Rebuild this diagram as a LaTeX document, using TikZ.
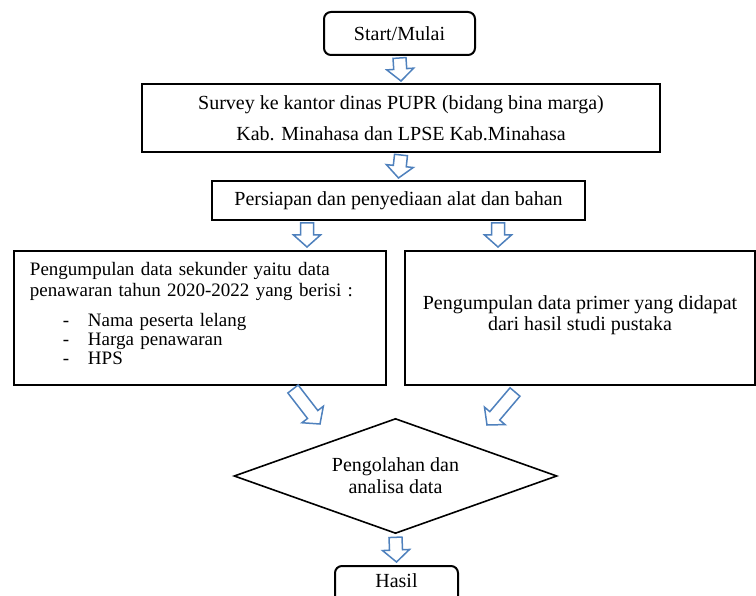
\documentclass[tikz,border=0pt]{standalone}
\usepackage{fontspec}
\setmainfont{Liberation Serif}
\usetikzlibrary{shapes.geometric,calc}
\definecolor{arrblue}{HTML}{4F81BD}
\tikzset{
 box/.style={draw, line width=2pt, inner sep=0pt, font=\fontsize{20}{21}\selectfont},
 rbox/.style={box, rounded corners=7pt},
 barr/.style={draw=arrblue, line width=1.5pt, fill=white, line join=miter},
}
\newcommand\blockarr[2]{%
 \coordinate (ba-h) at ($(#2)!12pt!(#1)$);
 \draw[barr] ($(#1)!6.5pt!90:(#2)$) -- ($(ba-h)!6.5pt!90:(#2)$) -- ($(ba-h)!13.5pt!90:(#2)$) -- (#2) -- ($(ba-h)!13.5pt!-90:(#2)$) -- ($(ba-h)!6.5pt!-90:(#2)$) -- ($(#1)!6.5pt!-90:(#2)$) -- cycle;}
\begin{document}
\begin{tikzpicture}[x=1pt,y=-1pt]
\useasboundingbox (0,0) rectangle (756,596);
\clip (0,0) rectangle (756,596);
\node[rbox, minimum width=151pt, minimum height=43pt] (start) at (399.5,33.5) {Start/Mulai};
\node[box, minimum width=518pt, minimum height=68pt, align=center, font=\fontsize{20}{31}\selectfont] (survey) at (401,118) {Survey ke kantor dinas PUPR (bidang bina marga)\\Kab. Minahasa dan LPSE Kab.Minahasa};
\node[box, minimum width=373pt, minimum height=39pt] (prep) at (398.5,200.5) {Persiapan dan penyediaan alat dan bahan};
\node[box, minimum width=372pt, minimum height=134pt, text width=340pt, align=left, font=\fontsize{19}{21}\selectfont] (left) at (200,318) {Pengumpulan data sekunder yaitu data\\
penawaran tahun 2020-2022 yang berisi :\\[9pt]
\hspace*{33pt}\makebox[25pt][l]{-}Nama peserta lelang\\[-2pt]
\hspace*{33pt}\makebox[25pt][l]{-}Harga penawaran\\[-2pt]
\hspace*{33pt}\makebox[25pt][l]{-}HPS\rule[-10pt]{0pt}{0pt}};
\node[box, minimum width=350pt, minimum height=134pt, align=center] (right) at (580,318) {Pengumpulan data primer yang didapat\\dari hasil studi pustaka\rule[-9pt]{0pt}{0pt}};
\node[draw, diamond, aspect=2.8, line width=1.6pt, minimum width=323pt, minimum height=115pt, inner sep=0pt, align=center, font=\fontsize{20}{22}\selectfont] (proc) at (395.5,476) {Pengolahan dan\\analisa data};
\node[rbox, anchor=north, minimum width=123pt, text height=17pt, text depth=24pt, inner sep=4pt] (hasil) at (396.5,565) {Hasil};
\coordinate (a1s) at ($(start.south)+(0,2)$);
\coordinate (a1e) at ($(survey.north)+(0,-2)$);
\coordinate (a2s) at ($(survey.south)+(0,2)$);
\coordinate (a2e) at ($(prep.north)+(0,-2)$);
\coordinate (a3s) at ($(prep.south)+(-91.5,2)$);
\coordinate (a3e) at ($(left.north)+(107,-3)$);
\coordinate (a4s) at ($(prep.south)+(99.5,2)$);
\coordinate (a4e) at ($(right.north)+(-82,-3)$);
\coordinate (a5s) at ($(left.south)+(93,3)$);
\coordinate (a5e) at ($(proc.center)+(-75.5,-52)$);
\coordinate (a6s) at ($(right.south)+(-65,6)$);
\coordinate (a6e) at ($(proc.center)+(91.5,-51)$);
\coordinate (a7s) at ($(proc.south)+(0,3)$);
\coordinate (a7e) at ($(hasil.north)+(0,-3)$);
\blockarr{a1s}{a1e}
\blockarr{a2s}{a2e}
\blockarr{a3s}{a3e}
\blockarr{a4s}{a4e}
\blockarr{a5s}{a5e}
\blockarr{a6s}{a6e}
\blockarr{a7s}{a7e}
\end{tikzpicture}
\end{document}
